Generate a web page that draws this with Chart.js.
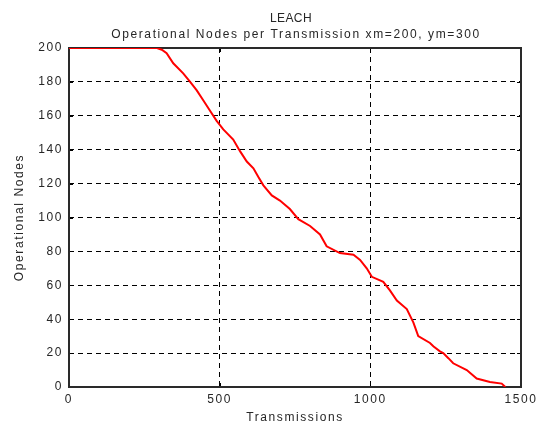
<!DOCTYPE html>
<html>
<head>
<meta charset="utf-8">
<script src="https://cdn.jsdelivr.net/npm/chart.js@4.4.0/dist/chart.umd.min.js"></script>
<style>
html,body{margin:0;padding:0;background:#ffffff;}
#wrap{width:544px;height:425px;}
canvas{display:block;}
</style>
</head>
<body>
<div id="wrap"><canvas id="c" width="544" height="425"></canvas></div>
<script>
// ---- chart data ----
const titleText = 'LEACH';
const subtitleText = 'Operational Nodes per Transmission xm=200, ym=300';
const xAxisLabel = 'Transmissions';
const yAxisLabel = 'Operational Nodes';
const xTicks = [0, 500, 1000, 1500];
const yTicks = [0, 20, 40, 60, 80, 100, 120, 140, 160, 180, 200];
const transmissions = [0, 292, 308, 324, 346, 379, 402, 424, 446, 468, 490, 512, 545, 568, 590, 612, 628, 645, 673, 700, 733, 761, 800, 833, 855, 899, 944, 966, 988, 1005, 1043, 1065, 1088, 1121, 1143, 1159, 1198, 1209, 1231, 1242, 1259, 1275, 1320, 1353, 1397, 1436, 1448];
const operationalNodes = [200, 200, 199, 197, 191, 185, 180, 175, 169, 163, 157, 152, 146, 139, 133, 129, 124, 119, 113, 110, 105, 99, 95, 90, 83, 79, 78, 75, 70, 65, 62, 57, 51, 46, 38, 30, 26, 24, 21, 20, 17, 14, 10, 5, 3, 2, 0];

// ---- style ----
const FONT_FAMILY = "'Liberation Sans', Arial, Helvetica, sans-serif";
const TEXT_COLOR = '#262626';
const SPACING = '1.6px';

const spacingPlugin = {
  id: 'spacing',
  beforeUpdate(chart) { chart.ctx.letterSpacing = SPACING; },
  beforeDraw(chart) { chart.ctx.letterSpacing = SPACING; }
};

const framePlugin = {
  id: 'frame',
  beforeDatasetsDraw(chart) {
    const {ctx, chartArea: a, scales} = chart;
    ctx.save();
    ctx.setLineDash([]);
    // inward tick marks
    ctx.strokeStyle = '#000';
    ctx.lineWidth = 1;
    ctx.beginPath();
    xTicks.forEach(v => {
      const px = Math.round(scales.x.getPixelForValue(v)) + 0.5;
      ctx.moveTo(px, a.bottom); ctx.lineTo(px, a.bottom - 4);
      ctx.moveTo(px, a.top); ctx.lineTo(px, a.top + 4);
    });
    yTicks.forEach(v => {
      const py = Math.round(scales.y.getPixelForValue(v)) + 0.5;
      ctx.moveTo(a.left, py); ctx.lineTo(a.left + 4, py);
      ctx.moveTo(a.right, py); ctx.lineTo(a.right - 4, py);
    });
    ctx.stroke();
    // box
    ctx.strokeStyle = '#2a2a2a';
    ctx.lineWidth = 2;
    ctx.strokeRect(a.left, a.top, a.right - a.left, a.bottom - a.top);
    ctx.restore();
  },
  afterDraw(chart) {
    const {ctx, chartArea: a} = chart;
    const cx = (a.left + a.right) / 2;
    ctx.save();
    ctx.fillStyle = TEXT_COLOR;
    ctx.textAlign = 'center';
    ctx.textBaseline = 'alphabetic';
    ctx.font = '12px ' + FONT_FAMILY;
    ctx.letterSpacing = '0.4px';
    ctx.fillText(titleText, cx - 4, 22);
    ctx.letterSpacing = SPACING;
    ctx.fillText(subtitleText, cx + 1, 37.5);
    ctx.restore();
  }
};

const tickFont = {family: FONT_FAMILY, size: 12};

new Chart(document.getElementById('c').getContext('2d'), {
  type: 'line',
  data: {
    datasets: [{
      data: transmissions.map((x, i) => ({x: x, y: operationalNodes[i]})),
      borderColor: '#ff0000',
      borderWidth: 2,
      pointRadius: 0,
      tension: 0,
      fill: false
    }]
  },
  options: {
    responsive: false,
    animation: false,
    devicePixelRatio: 1,
    layout: {padding: {top: 48, right: 23, left: 0, bottom: 0}},
    plugins: {legend: {display: false}, tooltip: {enabled: false}, title: {display: false}},
    scales: {
      x: {
        type: 'linear', min: 0, max: 1500,
        afterBuildTicks: s => { s.ticks = xTicks.map(v => ({value: v})); },
        afterFit: s => { s.height = 38; },
        grid: {color: '#000', lineWidth: 1, drawTicks: false},
        border: {display: false, dash: [5, 4]},
        ticks: {padding: 5, color: TEXT_COLOR, font: tickFont, maxRotation: 0, autoSkip: false,
                callback: v => String(v)},
        title: {display: true, text: xAxisLabel, color: TEXT_COLOR, font: tickFont, padding: {top: 0, bottom: 0}}
      },
      y: {
        type: 'linear', min: 0, max: 200,
        afterBuildTicks: s => { s.ticks = yTicks.map(v => ({value: v})); },
        afterFit: s => { s.width = 69; },
        grid: {color: '#000', lineWidth: 1, drawTicks: false},
        border: {display: false, dash: [5, 4]},
        ticks: {padding: 6, color: TEXT_COLOR, font: tickFont, autoSkip: false,
                callback: v => String(v)},
        title: {display: true, text: yAxisLabel, color: TEXT_COLOR, font: tickFont, padding: {top: 12, bottom: 0}}
      }
    }
  },
  plugins: [spacingPlugin, framePlugin]
});
</script>
</body>
</html>
